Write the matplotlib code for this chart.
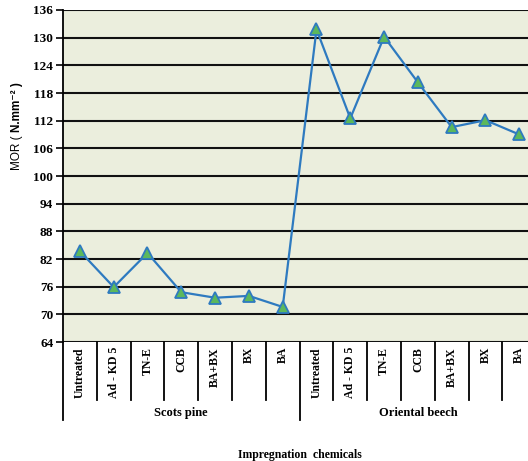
import matplotlib
matplotlib.use("Agg")
import matplotlib.pyplot as plt

groups = ["Scots pine", "Oriental beech"]
chemicals = ["Untreated", "Ad - KD 5", "TN-E", "CCB", "BA+BX", "BX", "BA"]
scots_pine = [83.7, 75.9, 83.3, 74.8, 73.6, 74.0, 71.6]
oriental_beech = [131.8, 112.5, 130.2, 120.3, 110.6, 112.1, 109.0]
yticks = [64, 70, 76, 82, 88, 94, 100, 106, 112, 118, 124, 130, 136]

values = scots_pine + oriental_beech
labels = chemicals + chemicals
n = len(values)

W, H = 528, 461
fig = plt.figure(figsize=(W / 100, H / 100), dpi=100)
left_px, top_px, bot_px = 63, 10, 342
cell = 33.8
width_px = cell * n
ax = fig.add_axes([left_px / W, 1 - bot_px / H, width_px / W, (bot_px - top_px) / H])
ax.set_facecolor("#ebeedd")

xs = [i + 0.5 for i in range(n)]
ax.plot(xs, values, color="#2e7ac0", lw=1.6, marker="^", ms=9,
        markerfacecolor="#5cb85c", markeredgecolor="#2e7ac0", markeredgewidth=1.3, zorder=3)

ax.set_xlim(0, n)
ax.set_ylim(yticks[0], yticks[-1])
ax.set_yticks(yticks)
ax.set_yticklabels([str(t) for t in yticks], fontfamily="Liberation Serif",
                   fontweight="bold", fontsize=9.5)
ax.yaxis.grid(True, color="#111111", lw=1.5)
ax.set_axisbelow(True)
ax.set_xticks([])
for s in ["top", "right", "bottom"]:
    ax.spines[s].set_visible(False)
ax.spines["left"].set_linewidth(1.3)
ax.tick_params(axis="y", length=5, width=1.2, pad=2)

trans = ax.get_xaxis_transform()
ax_h_px = bot_px - top_px
def yfrac(py):
    return (bot_px - py) / ax_h_px

# category separators
for k in range(n + 1):
    y_end = 420 if k % 7 == 0 else 400
    ax.plot([k, k], [0, yfrac(y_end)], transform=trans, color="black", lw=1.3,
            clip_on=False)

# category labels
for i, lab in enumerate(labels):
    ax.text(i + 0.5, yfrac(347), lab, transform=trans, rotation=90, ha="center",
            va="top", fontfamily="Liberation Serif", fontweight="bold", fontsize=8.5)

# group labels
for g, name in enumerate(groups):
    ax.text(g * 7 + 3.5, yfrac(413), name, transform=trans, ha="center", va="center",
            fontfamily="Liberation Serif", fontweight="bold", fontsize=9)

fig.text(300 / W, 1 - 455 / H, "Impregnation  chemicals", ha="center", va="center",
         fontfamily="Liberation Serif", fontweight="bold", fontsize=8.5)

# y-axis label: regular "MOR ( " followed by bold "N.mm⁻² )"
t1 = fig.text(17 / W, 1 - 170 / H, "MOR ( ", rotation=90, ha="center", va="bottom",
              fontfamily=["Liberation Sans", "DejaVu Sans"], fontsize=8.5)
fig.canvas.draw()
bb = t1.get_window_extent(renderer=fig.canvas.get_renderer())
fig.text(17 / W, bb.y1 / H, "N.mm\u207b\u00b2 )", rotation=90, ha="center", va="bottom",
         fontfamily=["Liberation Sans", "DejaVu Sans"], fontweight="bold", fontsize=8.5)

fig.savefig("out.png", dpi=100)
